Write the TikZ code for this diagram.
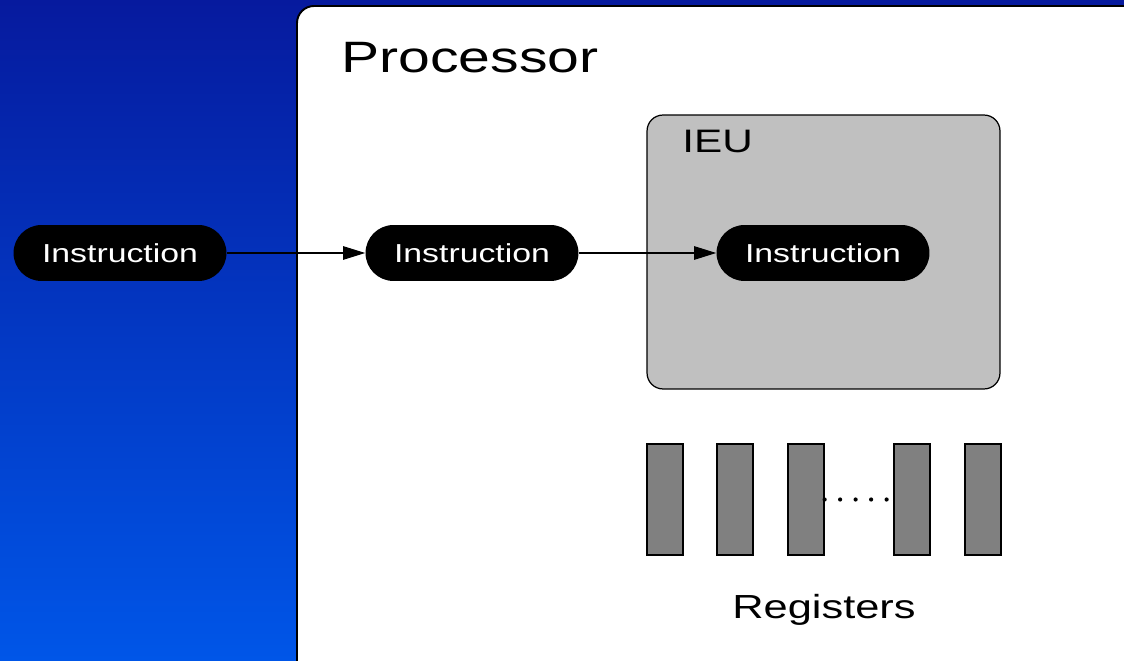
\documentclass[tikz,border=0pt]{standalone}
\usepackage{fontspec}
\setmainfont[FakeStretch=1.3]{Liberation Sans}
\usetikzlibrary{arrows.meta}

\definecolor{bgtop}{RGB}{6,26,158}
\definecolor{bgbottom}{RGB}{0,86,232}
\definecolor{ieugray}{RGB}{192,192,192}
\definecolor{reggray}{RGB}{128,128,128}

\tikzset{
  pill/.style={rectangle, fill=black, text=white, rounded corners=0.56cm,
    minimum width=4.26cm, minimum height=1.12cm, inner sep=0pt,
    font=\fontsize{14.8}{17}\selectfont},
  register/.style={rectangle, draw, fill=reggray, line width=0.7pt,
    minimum width=0.72cm, minimum height=2.22cm, inner sep=0pt},
  flow/.style={-{Triangle[length=0.44cm,width=0.27cm]}, line width=0.6pt}
}

\begin{document}
\begin{tikzpicture}[x=0.02cm, y=-0.02cm]
  \useasboundingbox (0,0) rectangle (1124,661);
  % Background
  \shade[top color=bgtop, bottom color=bgbottom] (0,0) rectangle (1124,661);
  \begin{scope}
    \clip (0,0) rectangle (1124,661);
    \draw[fill=white, line width=1.1pt, rounded corners=0.34cm] (297,6) rectangle (1170,720);
  \end{scope}

  % Nodes
  \node (proc) [anchor=west, inner sep=0pt, font=\fontsize{25}{30}\selectfont] at (341,58) {Processor};
  \node (ieu) [rectangle, draw, fill=ieugray, line width=0.7pt, rounded corners=0.32cm,
    minimum width=7.06cm, minimum height=5.48cm] at (823.5,252) {};
  \node (ieu-label) [anchor=base west, inner sep=0pt, font=\fontsize{18.5}{22}\selectfont] at (682,153) {IEU};

  \node (in-0) [pill] at (120,253) {Instruction};
  \node (in-1) [pill] at (472,253) {Instruction};
  \node (in-2) [pill] at (823,253) {Instruction};

  \node (reg-1) [register] at (665,499.5) {};
  \node (reg-2) [register] at (735,499.5) {};
  \node (reg-3) [register] at (806,499.5) {};
  \node (reg-4) [register] at (912,499.5) {};
  \node (reg-5) [register] at (983,499.5) {};
  \node (regs) [anchor=base, inner sep=0pt, font=\fontsize{19}{23}\selectfont] at (824,618) {Registers};

  % Dots between registers
  \foreach \i in {0,...,4}
    \fill ([xshift=\i*0.31cm]reg-3.east) circle (1.2pt);

  % Arrows
  \draw[flow] (in-0) -- (in-1);
  \draw[flow] (in-1) -- (in-2);
\end{tikzpicture}
\end{document}
